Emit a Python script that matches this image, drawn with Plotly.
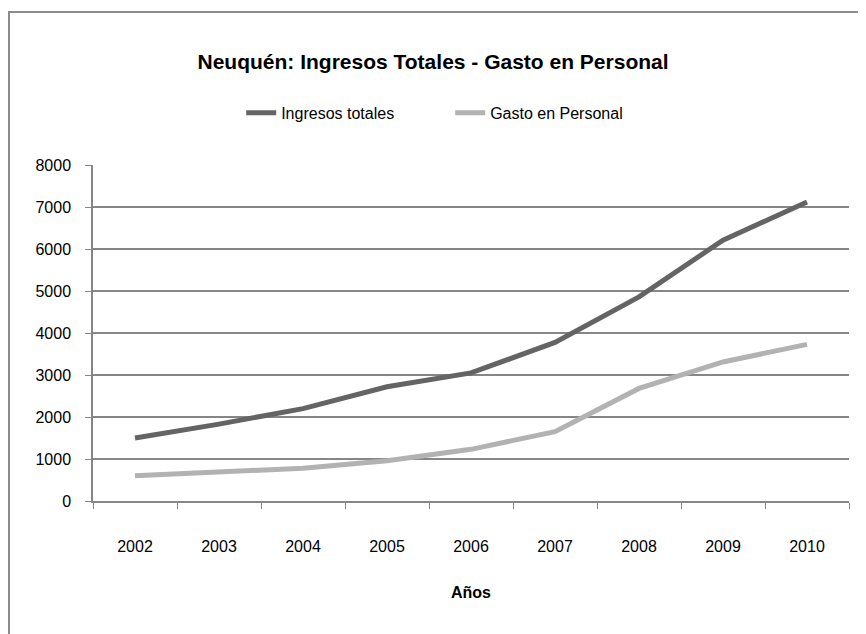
import plotly.graph_objects as go

years = ["2002", "2003", "2004", "2005", "2006", "2007", "2008", "2009", "2010"]
ingresos = [1500, 1830, 2200, 2720, 3050, 3775, 4860, 6210, 7120]
gasto = [600, 700, 780, 960, 1230, 1650, 2680, 3310, 3730]

FONT = "Liberation Sans Narrow, Liberation Sans, Arial"

fig = go.Figure()
fig.add_trace(go.Scatter(x=years, y=ingresos, mode="lines", name="Ingresos totales",
                         line=dict(color="#646464", width=5)))
fig.add_trace(go.Scatter(x=years, y=gasto, mode="lines", name="Gasto en Personal",
                         line=dict(color="#b2b2b2", width=5)))

fig.update_layout(
    width=866, height=634,
    margin=dict(l=85, r=25, t=157, b=141, autoexpand=False),
    paper_bgcolor="white", plot_bgcolor="white",
    font=dict(family=FONT, size=16, color="black"),
    title=dict(text="<b>Neuquén: Ingresos Totales - Gasto en Personal</b>",
               xref="container", x=0.4908, xanchor="center",
               yref="container", y=0.915, yanchor="middle",
               font=dict(size=21, family=FONT)),
    legend=dict(orientation="h", x=0.196, xanchor="left", y=1.155, yanchor="middle",
                font=dict(size=16, family=FONT), itemwidth=30, entrywidth=164,
                bgcolor="rgba(0,0,0,0)"),
    showlegend=True,
)
fig.update_xaxes(type="category", range=[-0.5, 8.5], automargin=False,
                 showline=True, linecolor="#868686", linewidth=1.5,
                 ticks="outside", tickson="boundaries", ticklen=6, tickcolor="#868686",
                 showgrid=False, ticklabelstandoff=30,
                 title=dict(text="<b>Años</b>", standoff=33, font=dict(size=16)))
fig.update_yaxes(range=[0, 8000], dtick=1000, automargin=False,
                 showline=True, linecolor="#868686", linewidth=1.5,
                 ticks="outside", ticklen=6, tickcolor="#868686",
                 showgrid=True, gridcolor="#868686", gridwidth=1.5, zeroline=False,
                 ticklabelstandoff=11)

fig.add_shape(type="rect", xref="paper", yref="paper",
              x0=-0.1111, x1=1.2, y0=-0.5, y1=1.455,
              line=dict(color="#8c8c8c", width=2), fillcolor="rgba(0,0,0,0)", layer="below")

fig.write_html("out.html")
